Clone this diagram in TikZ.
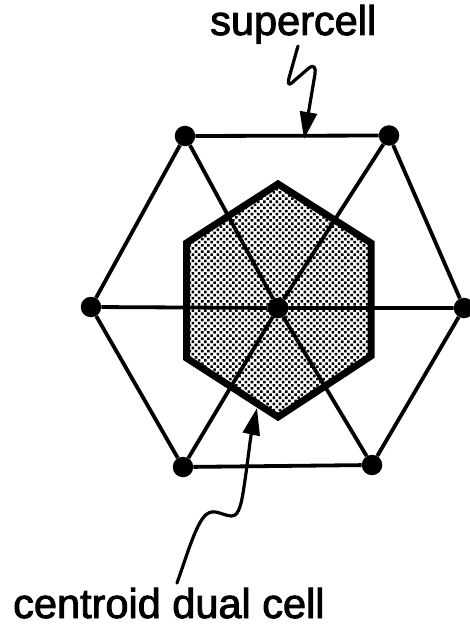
\documentclass[tikz,border=0pt]{standalone}
\usepackage{fontspec}
\setmainfont[FakeBold=2.2]{Liberation Sans}
\usetikzlibrary{arrows.meta,patterns.meta}
\tikzset{
  vertex/.style={circle,fill=black,inner sep=0pt,minimum size=20.5pt},
  edgeline/.style={line width=3.8pt,black},
  dualcell/.style={line width=7pt,black,line join=miter,pattern={Dots[distance=4.4pt,angle=45,radius=1.8pt]},pattern color=black},
  callout/.style={line width=3.2pt,black,line cap=round,line join=round},
  tipped/.style={-{Stealth[length=27pt,width=17pt,inset=0pt]}},
  caption/.style={anchor=base west,inner sep=0pt,font=\fontsize{41.5}{41.5}\selectfont}
}
\begin{document}
\begin{tikzpicture}[x=1pt,y=-1pt]
\useasboundingbox (0,0) rectangle (469,628);
% dual cell
\draw[dualcell] (278,184) -- (371,243) -- (371,356) -- (278,417) -- (186.5,358) -- (186.5,243) -- cycle;
% vertices
\node[vertex] (c) at (278,308) {};
\node[vertex] (tl) at (185,136) {};
\node[vertex] (tr) at (389,135.5) {};
\node[vertex] (r) at (464,308) {};
\node[vertex] (br) at (372,465) {};
\node[vertex] (bl) at (183,467) {};
\node[vertex] (l) at (91,307) {};
% edges
\draw[edgeline] (tl) -- (tr) -- (r) -- (br) -- (bl) -- (l) -- (tl);
\draw[edgeline] (tl) -- (c) -- (br);
\draw[edgeline] (tr) -- (c) -- (bl);
\draw[edgeline] (l) -- (c) -- (r);
% labels
\node[caption] (sup) at (210,35) {supercell};
\node[caption] (cen) at (13,618) {centroid dual cell};
% callouts
\coordinate (supfrom) at (298,46);
\coordinate (suptip) at (304,139);
\coordinate (cenfrom) at (177,583);
\coordinate (centip) at (257,408);
\draw[callout,tipped] (supfrom) -- (289,78) .. controls (287,87) and (290,85) .. (295,80)
  -- (309,68) .. controls (314,64) and (316,68) .. (315,74) -- (suptip);
\draw[callout,tipped] (cenfrom) .. controls (186,558) and (194,530) .. (203,518)
  .. controls (212,506) and (220,515) .. (231,516) .. controls (240,517) and (242,500) .. (245,480)
  .. controls (248,460) and (250,440) .. (centip);
\end{tikzpicture}
\end{document}
